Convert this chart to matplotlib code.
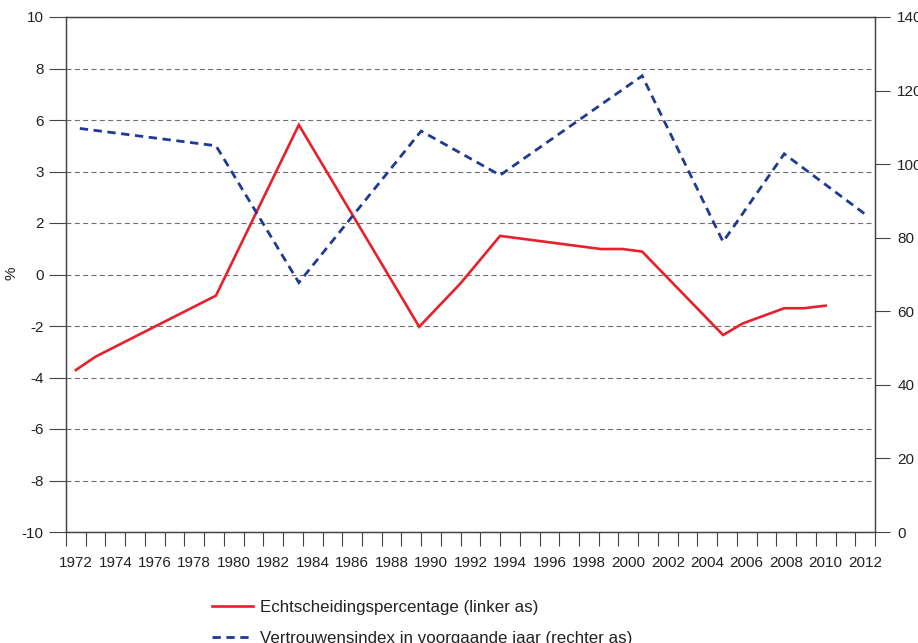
import numpy as np
import matplotlib.pyplot as plt
from matplotlib.ticker import FixedLocator, NullFormatter

plt.rcParams['font.family'] = ['Liberation Sans', 'DejaVu Sans']

# echtscheidingspercentage (linker as)
years_red = [1972.0, 1973.0, 1979.1, 1983.3, 1989.4, 1991.5, 1993.5, 1998.6,
             1999.7, 2000.7, 2004.8, 2005.8, 2007.9, 2008.9, 2010.0]
divorce = [-3.71, -3.19, -0.82, 5.81, -2.03, -0.34, 1.50, 0.99,
           0.99, 0.89, -2.35, -1.90, -1.31, -1.31, -1.21]

# vertrouwensindex (rechter as)
years_blue = [1972.2, 1979.1, 1983.3, 1989.5, 1993.5, 2000.7, 2004.8, 2007.9, 2012.0]
confidence = [109.7, 105.0, 67.8, 109.0, 97.0, 124.0, 78.9, 102.8, 86.4]

left_ticks = [10, 8, 6, 4, 2, 0, -2, -4, -6, -8, -10]
left_labels = ['10', '8', '6', '3', '2', '0', '-2', '-4', '-6', '-8', '-10']
right_ticks = [0, 20, 40, 60, 80, 100, 120, 140]
year_labels = list(range(1972, 2013, 2))

label_red = 'Echtscheidingspercentage (linker as)'
label_blue = 'Vertrouwensindex in voorgaande jaar (rechter as)'

W, H = 918, 643
fig = plt.figure(figsize=(W / 100, H / 100), dpi=100)
ax = fig.add_axes([66 / W, 1 - 532 / H, 809 / W, 515 / H])
ax2 = ax.twinx()

txt = '#222222'
spc = '#444444'

# left axis
ax.set_ylim(-10, 10)
ax.set_yticks(left_ticks)
ax.set_yticklabels(left_labels)
ax.yaxis.grid(True, linestyle=(0, (4.5, 3)), color='#6e6e6e', lw=0.8)
ax.set_axisbelow(True)
ax.tick_params(axis='y', direction='out', length=12, width=0.8, pad=4,
               labelsize=11, colors=spc, labelcolor=txt)

# x axis: tick marks between years, labels on even years
ax.set_xlim(1971.5, 2012.5)
ax.xaxis.set_major_locator(FixedLocator(np.arange(1971.5, 2013, 1)))
ax.xaxis.set_major_formatter(NullFormatter())
ax.set_xticks(year_labels, [str(y) for y in year_labels], minor=True)
ax.tick_params(axis='x', which='major', direction='out', length=10, width=0.8, colors=spc)
ax.tick_params(axis='x', which='minor', length=0, pad=17, labelsize=11, labelcolor=txt)

# right axis
ax2.set_ylim(0, 140)
ax2.set_yticks(right_ticks)
ax2.tick_params(axis='y', direction='out', length=11, width=0.8, pad=5,
                labelsize=11, colors=spc, labelcolor=txt)

for a in (ax, ax2):
    for s in a.spines.values():
        s.set_color(spc)
        s.set_linewidth(0.9)

l1, = ax.plot(years_red, divorce, color='#e8202a', lw=1.9, solid_joinstyle='miter')
l2, = ax2.plot(years_blue, confidence, color='#1f3a93', lw=2.0,
               linestyle=(0, (3, 2)), dash_joinstyle='miter')

fig.text(12 / W, 1 - 273 / H, '%', rotation=90, ha='center', va='center',
         fontsize=11, color=txt)

fig.legend([l1, l2], [label_red, label_blue], loc='upper left',
           bbox_to_anchor=(212 / W, 1 - 600 / H), frameon=False, borderpad=0,
           borderaxespad=0, handlelength=2.4, handletextpad=0.42,
           labelspacing=0.92, fontsize=12.2, labelcolor=txt)

fig.savefig('out.png', dpi=100)
